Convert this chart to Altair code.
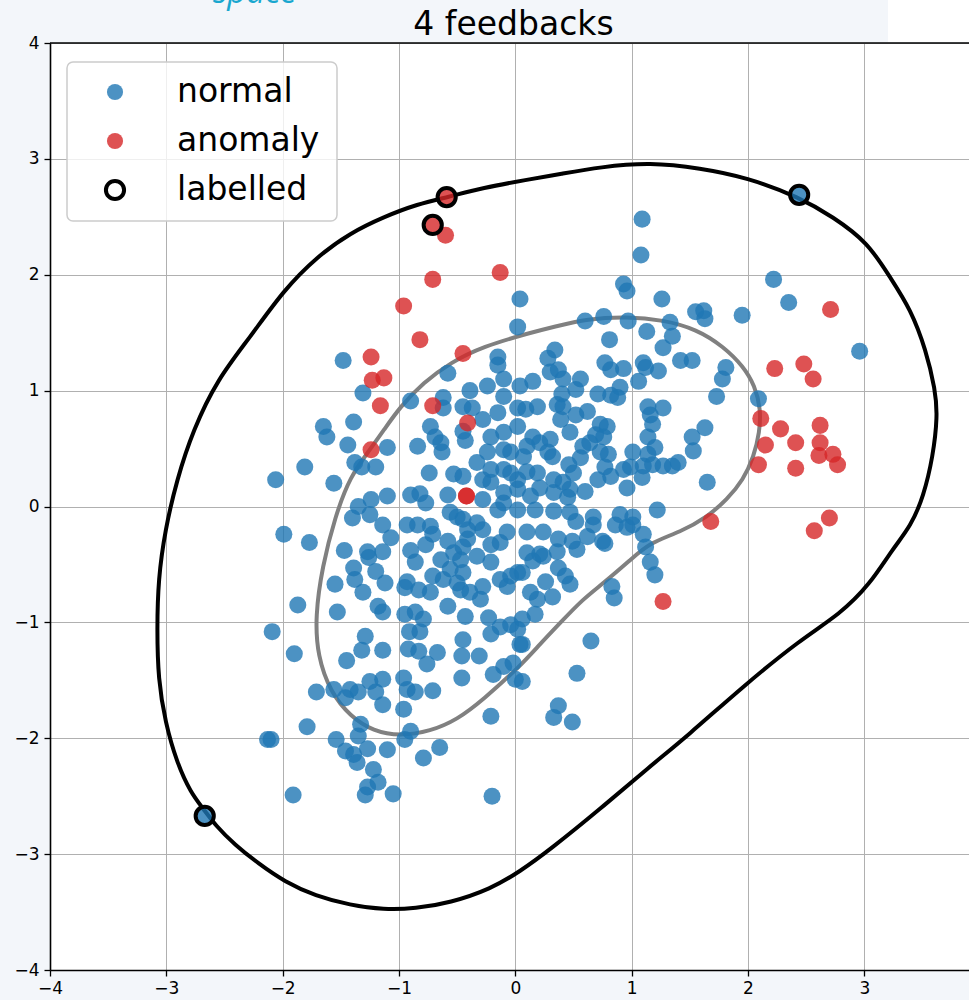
import altair as alt
import pandas as pd

# ---- axis setup -------------------------------------------------------
X_TICKS = [-4, -3, -2, -1, 0, 1, 2, 3]
Y_TICKS = [-4, -3, -2, -1, 0, 1, 2, 3, 4]
X_DOMAIN = [-4, 3.9]
Y_DOMAIN = [-4, 4]
TITLE = "4 feedbacks"
LEGEND_LABELS = ["normal", "anomaly", "labelled"]

# ---- samples ------------------------------------------------------------
normal_pts = [
    (0.04, 1.79), (0.02, 1.55), (-1.48, 1.26), (-0.58, 1.15), (-1.31, 0.98), (-0.90, 0.91),
    (-0.62, 0.94), (-0.62, 0.85), (-0.39, 1.00), (-0.45, 0.86), (-0.37, 0.85), (-0.15, 1.29),
    (-0.15, 1.22), (-0.24, 1.04), (-0.10, 1.10), (0.04, 1.04), (-1.65, 0.69), (-1.62, 0.60),
    (-1.39, 0.73), (-1.44, 0.53), (-1.10, 0.51), (-0.73, 0.69), (-0.69, 0.60), (-0.64, 0.55),
    (-0.63, 0.47), (-0.84, 0.52), (-0.45, 0.65), (-0.43, 0.57), (-0.28, 0.75), (-0.21, 0.60),
    (-1.81, 0.34), (-2.06, 0.23), (-1.56, 0.20), (-1.38, 0.38), (-1.32, 0.34), (-1.20, 0.34),
    (-0.74, 0.29), (-0.53, 0.28), (-0.90, 0.10), (-0.82, 0.11), (-0.77, 0.03), (-0.58, 0.10),
    (-1.10, 0.09), (-1.24, 0.06), (-1.35, 0.00), (-0.33, 0.38), (-0.28, 0.23), (-0.21, 0.21),
    (-0.10, 0.12), (0.02, 0.23), (-0.04, 0.47), (-0.10, 0.95), (-0.15, 0.81), (0.02, 0.85),
    (0.02, 0.69), (-0.10, 0.64), (-0.24, 0.47), (-0.10, 0.49), (-0.04, 0.29), (-0.21, 0.32),
    (0.02, 0.15), (-0.28, 0.06), (-0.15, -0.03), (0.02, -0.03), (-0.56, -0.05), (-0.45, 0.26),
    (-0.10, 0.32), (-0.10, 0.03),
    (0.93, 1.92), (0.96, 1.86), (1.26, 1.79), (1.55, 1.68), (1.62, 1.69), (1.63, 1.62),
    (1.95, 1.65), (2.22, 1.96), (2.35, 1.76), (0.60, 1.60), (0.76, 1.64), (0.97, 1.60),
    (1.33, 1.59), (1.13, 1.51), (1.35, 1.47), (1.27, 1.37), (0.81, 1.44), (0.34, 1.35),
    (0.28, 1.28), (0.77, 1.24), (0.82, 1.18), (0.93, 1.19), (1.10, 1.24), (1.12, 1.20),
    (1.23, 1.17), (1.06, 1.08), (1.42, 1.26), (1.52, 1.26), (1.81, 1.20), (1.78, 1.10),
    (0.37, 1.18), (0.30, 1.16), (0.41, 1.10), (0.56, 1.10), (0.15, 1.08), (0.90, 1.03),
    (0.71, 0.97), (0.82, 0.96), (0.88, 0.94), (0.52, 1.01), (0.40, 0.97), (0.36, 0.88),
    (0.19, 0.86), (0.09, 0.84), (0.62, 0.82), (0.52, 0.79), (0.39, 0.75), (1.14, 0.86),
    (1.27, 0.85), (1.16, 0.79), (1.18, 0.71), (1.73, 0.95), (2.09, 0.93), (1.63, 0.68),
    (1.52, 0.60), (1.53, 0.48), (1.14, 0.60), (1.20, 0.51), (1.14, 0.45), (1.01, 0.47),
    (0.73, 0.71), (0.79, 0.69), (0.69, 0.62), (0.76, 0.60), (0.64, 0.55), (0.58, 0.52),
    (0.73, 0.47), (0.80, 0.45), (0.56, 0.42), (0.32, 0.43), (0.21, 0.55), (0.15, 0.60),
    (0.10, 0.52), (0.07, 0.43), (0.46, 0.36), (0.50, 0.29), (0.77, 0.34), (0.82, 0.26),
    (0.93, 0.32), (0.99, 0.34), (1.10, 0.35), (1.18, 0.36), (1.27, 0.35), (1.35, 0.35),
    (1.40, 0.38), (1.09, 0.25), (0.96, 0.16), (0.71, 0.23), (0.60, 0.13), (0.41, 0.21),
    (0.33, 0.23), (0.19, 0.29), (0.10, 0.30), (0.21, 0.16), (0.33, 0.12), (0.45, 0.08),
    (0.13, 0.09), (1.65, 0.21), (1.22, -0.03), (0.90, -0.07), (0.67, -0.09), (1.01, -0.09),
    (0.41, 0.86), (0.30, 0.58), (0.47, 0.64), (0.28, 0.47), (0.47, 0.15), (0.17, -0.03),
    (0.33, -0.04), (0.47, -0.05),
    (-1.99, -0.24), (-1.77, -0.31), (-1.47, -0.38), (-1.40, -0.10), (-1.25, -0.07), (-1.14, -0.16),
    (-1.07, -0.27), (-1.14, -0.39), (-1.27, -0.39), (-1.26, -0.44), (-1.39, -0.53), (-1.38, -0.63),
    (-1.20, -0.56), (-1.12, -0.66), (-1.31, -0.74), (-1.55, -0.67), (-1.87, -0.85), (-1.53, -0.91),
    (-1.18, -0.86), (-1.14, -0.91), (-2.09, -1.08), (-1.90, -1.27), (-1.45, -1.33), (-1.29, -1.12),
    (-1.32, -1.24), (-1.14, -1.24), (-0.93, -0.16), (-0.84, -0.16), (-0.73, -0.17), (-0.90, -0.38),
    (-0.86, -0.48), (-0.77, -0.33), (-0.71, -0.24), (-0.58, -0.30), (-0.71, -0.60), (-0.93, -0.65),
    (-0.95, -0.70), (-0.83, -0.72), (-0.73, -0.74), (-0.95, -0.93), (-0.86, -0.91), (-0.79, -0.97),
    (-0.91, -1.08), (-0.82, -1.08), (-0.92, -1.23), (-0.83, -1.25), (-0.67, -1.26), (-0.76, -1.36),
    (-0.64, -0.46), (-0.53, -0.40), (-0.45, -0.35), (-0.41, -0.20), (-0.33, -0.14), (-0.50, -0.09),
    (-0.33, -0.43), (-0.56, -0.54), (-0.62, -0.63), (-0.50, -0.66), (-0.45, -0.57), (-0.47, -0.72),
    (-0.39, -0.74), (-0.58, -0.86), (-0.43, -0.95), (-0.30, -0.80), (-0.28, -0.69), (-0.21, -0.48),
    (-0.13, -0.31), (-0.07, -0.22), (-0.21, -0.33), (-0.13, -0.63), (-0.07, -0.69), (0.02, -0.57),
    (-0.23, -0.96), (-0.21, -1.10), (-0.13, -1.04), (-0.04, -1.02), (0.02, -1.06), (0.04, -1.19),
    (-0.45, -1.15), (-0.46, -1.29), (-0.31, -1.29), (-0.10, -1.38), (-0.19, -1.45), (0.00, -1.49),
    (-0.46, -1.48), (-1.71, -1.60), (-1.56, -1.58), (-1.46, -1.65), (-1.42, -1.58), (-1.35, -1.60),
    (-1.25, -1.51), (-1.20, -1.60), (-1.14, -1.49), (-1.14, -1.71), (-0.96, -1.48), (-0.93, -1.58),
    (-0.86, -1.60), (-0.71, -1.59), (-0.96, -1.75), (-1.79, -1.90), (-1.33, -1.88), (-1.35, -1.98),
    (-2.13, -2.01), (-2.10, -2.01), (-1.54, -2.01), (-1.46, -2.11), (-1.39, -2.14), (-1.36, -2.21),
    (-1.27, -2.09), (-1.10, -2.10), (-0.95, -2.01), (-0.90, -1.94), (-0.79, -2.17), (-0.65, -2.08),
    (-0.21, -1.81), (-1.22, -2.27), (-1.18, -2.38), (-1.27, -2.42), (-1.29, -2.49), (-1.05, -2.48),
    (-1.91, -2.49), (-0.20, -2.50), (-0.28, -0.20), (-0.45, -0.11), (-0.41, -0.28), (-0.47, -0.46),
    (-0.04, -0.60), (-0.02, -1.35),
    (0.86, -0.16), (1.01, -0.16), (0.67, -0.16), (0.52, -0.13), (0.24, -0.22), (0.37, -0.28),
    (0.49, -0.30), (0.62, -0.26), (0.75, -0.30), (0.77, -0.32), (0.53, -0.37), (1.12, -0.35),
    (1.16, -0.48), (1.20, -0.59), (0.83, -0.69), (0.85, -0.79), (0.36, -0.39), (0.21, -0.41),
    (0.10, -0.40), (0.15, -0.47), (0.06, -0.57), (0.37, -0.53), (0.43, -0.60), (0.47, -0.67),
    (0.26, -0.65), (0.13, -0.74), (0.19, -0.80), (0.32, -0.78), (0.17, -0.93), (0.06, -0.97),
    (0.06, -1.19), (0.06, -1.51), (0.65, -1.16), (0.53, -1.44), (0.37, -1.72), (0.33, -1.82),
    (0.49, -1.86), (0.10, -0.22), (0.24, -0.43), (0.96, -0.18), (1.10, -0.24),
    (1.09, 2.48), (1.08, 2.17), (2.96, 1.34), (2.44, 2.69), (-2.67, -2.67),
]

anomaly_pts = [
    (-0.59, 2.67), (-0.71, 2.43), (-0.60, 2.34), (-0.13, 2.02), (-0.71, 1.96), (-0.96, 1.73),
    (-0.82, 1.44), (-0.45, 1.32), (-1.24, 1.29), (-1.13, 1.11), (-1.23, 1.09), (-1.16, 0.87),
    (-0.71, 0.87), (-0.41, 0.72), (-1.24, 0.49), (-0.42, 0.09), (-0.42, 0.09), (1.27, -0.82),
    (1.68, -0.13), (2.23, 1.19), (2.48, 1.23), (2.71, 1.70), (2.56, 1.10), (2.11, 0.76),
    (2.28, 0.67), (2.15, 0.53), (2.09, 0.36), (2.41, 0.55), (2.62, 0.70), (2.62, 0.55),
    (2.61, 0.44), (2.73, 0.45), (2.77, 0.36), (2.41, 0.33), (2.70, -0.10), (2.57, -0.21),
]

labelled_pts = [(-0.59, 2.67), (-0.71, 2.43), (2.44, 2.69), (-2.67, -2.67)]

# decision boundary (outer, black) and inner level (gray), as closed paths
outer_contour = [
    (1.16, 2.97), (1.59, 2.92), (1.99, 2.84), (2.44, 2.67), (2.73, 2.50), (3.03, 2.28),
    (3.22, 1.98), (3.40, 1.70), (3.53, 1.35), (3.61, 1.01), (3.63, 0.78), (3.59, 0.43),
    (3.51, 0.09), (3.40, -0.17), (3.24, -0.37), (3.05, -0.67), (2.79, -0.93), (2.45, -1.15),
    (1.96, -1.55), (1.48, -1.98), (1.16, -2.24), (0.73, -2.61), (0.30, -2.96), (0.04, -3.15),
    (-0.21, -3.30), (-0.56, -3.42), (-0.86, -3.47), (-1.13, -3.48), (-1.42, -3.44), (-1.72, -3.36),
    (-1.98, -3.24), (-2.21, -3.08), (-2.41, -2.92), (-2.58, -2.75), (-2.68, -2.61), (-2.79, -2.47),
    (-2.91, -2.21), (-3.01, -1.86), (-3.07, -1.49), (-3.08, -1.06), (-3.07, -0.63), (-3.01, -0.20),
    (-2.91, 0.23), (-2.77, 0.66), (-2.56, 1.10), (-2.28, 1.46), (-1.99, 1.87), (-1.70, 2.16),
    (-1.42, 2.36), (-1.13, 2.50), (-0.84, 2.61), (-0.58, 2.67), (-0.28, 2.75), (0.10, 2.82),
    (0.39, 2.87), (0.73, 2.93),
]

inner_contour = [
    (0.13, 1.50), (0.33, 1.55), (0.62, 1.62), (0.96, 1.64), (1.27, 1.61), (1.56, 1.53),
    (1.79, 1.38), (1.96, 1.21), (2.06, 1.04), (2.11, 0.84), (2.10, 0.64), (2.05, 0.43),
    (1.96, 0.23), (1.82, 0.06), (1.65, -0.09), (1.42, -0.22), (1.16, -0.31), (0.99, -0.46),
    (0.76, -0.66), (0.58, -0.80), (0.39, -1.00), (0.21, -1.19), (0.04, -1.38), (-0.28, -1.67),
    (-0.50, -1.84), (-0.73, -1.94), (-0.99, -1.98), (-1.22, -1.94), (-1.42, -1.81), (-1.59, -1.60),
    (-1.70, -1.29), (-1.72, -0.95), (-1.66, -0.52), (-1.55, -0.09), (-1.42, 0.26), (-1.25, 0.49),
    (-1.13, 0.66), (-0.99, 0.86), (-0.79, 1.07), (-0.56, 1.24), (-0.28, 1.38),
]

# ---- layout ---------------------------------------------------------------
W, H = 919, 927
FONT = "DejaVu Sans"
BLUE, RED = "#1f77b4", "#d62728"
PAGE_BG = "#f3f6fa"


def points_frame(pts):
    return pd.DataFrame(pts, columns=["x", "y"])


def path_frame(pts):
    df = pd.DataFrame(pts, columns=["x", "y"])
    df["i"] = range(len(df))
    return df


axis_style = dict(
    title=None, grid=True, gridColor="#b0b0b0", gridWidth=1,
    domainColor="black", domainWidth=1.6, tickColor="black", tickWidth=1.3,
    tickSize=6, labelFont=FONT, labelFontSize=17, labelColor="black",
    labelFlush=False, labelOverlap=False, format="d",
)

X = alt.X("x:Q", scale=alt.Scale(domain=X_DOMAIN, nice=False, zero=False),
          axis=alt.Axis(values=X_TICKS, labelPadding=4, **axis_style))
Y = alt.Y("y:Q", scale=alt.Scale(domain=Y_DOMAIN, nice=False, zero=False),
          axis=alt.Axis(values=Y_TICKS, labelPadding=5, **axis_style))

outer = alt.Chart(path_frame(outer_contour)).mark_line(
    interpolate="basis-closed", color="black", strokeWidth=4
).encode(x=X, y=Y, order="i:Q")

inner = alt.Chart(path_frame(inner_contour)).mark_line(
    interpolate="basis-closed", color="#808080", strokeWidth=4
).encode(x=X, y=Y, order="i:Q")

normal = alt.Chart(points_frame(normal_pts)).mark_circle(
    size=290, color=BLUE, opacity=0.8
).encode(x=X, y=Y)

anomaly = alt.Chart(points_frame(anomaly_pts)).mark_circle(
    size=290, color=RED, opacity=0.8
).encode(x=X, y=Y)

rings = alt.Chart(points_frame(labelled_pts)).mark_point(
    shape="circle", filled=False, size=330, color="black", strokeWidth=4, opacity=1
).encode(x=X, y=Y)

one_row = pd.DataFrame({"k": [0]})

top_spine = alt.Chart(one_row).mark_rule(color="black", strokeWidth=1.6).encode(
    x=alt.value(0), x2=alt.value(W), y=alt.value(0)
)

# white corner of the page behind the top-right of the frame
page_corner = alt.Chart(one_row).mark_rect(color="white", clip=False).encode(
    x=alt.value(838), x2=alt.value(W), y=alt.value(-43), y2=alt.value(-1)
)

# legend panel
legend_box = alt.Chart(one_row).mark_rect(
    cornerRadius=6, fill="white", fillOpacity=0.8, stroke="#cccccc", strokeWidth=1.5
).encode(x=alt.value(17), x2=alt.value(287), y=alt.value(19), y2=alt.value(178))

legend_normal = alt.Chart(one_row).mark_circle(size=260, color=BLUE, opacity=0.8).encode(
    x=alt.value(65), y=alt.value(49))
legend_anomaly = alt.Chart(one_row).mark_circle(size=260, color=RED, opacity=0.8).encode(
    x=alt.value(65), y=alt.value(98))
legend_ring = alt.Chart(one_row).mark_point(
    shape="circle", filled=False, size=330, color="black", strokeWidth=4, opacity=1
).encode(x=alt.value(65), y=alt.value(147))

legend_texts = [
    alt.Chart(one_row).mark_text(
        align="left", baseline="middle", font=FONT, fontSize=33, color="black"
    ).encode(x=alt.value(127), y=alt.value(yy), text=alt.value(lbl))
    for lbl, yy in zip(LEGEND_LABELS, [49, 98, 147])
]

title_text = alt.Chart(one_row).mark_text(
    align="center", baseline="alphabetic", font=FONT, fontSize=33, color="black"
).encode(x=alt.value(W / 2 + 4), y=alt.value(-8), text=alt.value(TITLE))

watermark = alt.Chart(one_row).mark_text(
    align="left", baseline="alphabetic", font="Open Sans", fontSize=33,
    fontStyle="italic", color="#19a7cf"
).encode(x=alt.value(163), y=alt.value(-40), text=alt.value("space"))

chart = alt.layer(
    page_corner, outer, inner, normal, anomaly, rings, top_spine,
    legend_box, legend_normal, legend_anomaly, legend_ring, *legend_texts,
    title_text, watermark,
).properties(
    width=W, height=H,
    autosize=alt.AutoSizeParams(type="none"),
    padding={"left": 50, "top": 43, "right": 0, "bottom": 30},
    background=PAGE_BG,
).configure_view(
    fill="white", stroke=None
)

chart.save("out.html", embed_options={"renderer": "svg", "actions": False})
